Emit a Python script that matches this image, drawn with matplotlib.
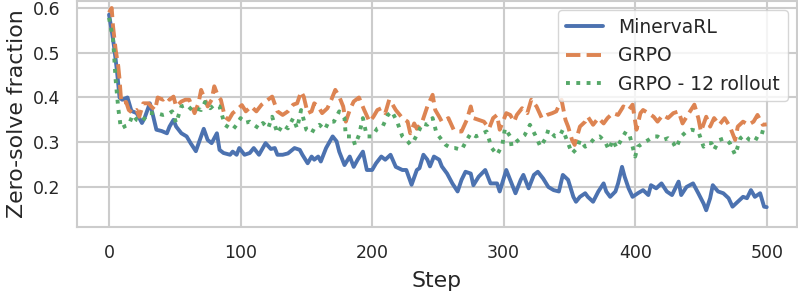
import matplotlib
matplotlib.use("Agg")
import matplotlib.pyplot as plt
import seaborn as sns

# values (step, zero-solve fraction)
minerva_step = [0, 2, 4, 6, 7, 8, 10, 14, 17, 21, 25, 27, 31, 33, 36, 40, 44, 46, 49, 51,
                55, 59, 62, 66, 69, 72, 75, 78, 82, 84, 87, 92, 94, 97, 99, 103, 107, 110, 114, 119,
                123, 126, 128, 132, 136, 141, 145, 147, 151, 154, 156, 159, 161, 165, 170, 173, 175, 179, 183, 186,
                189, 193, 196, 200, 203, 207, 210, 214, 218, 223, 226, 230, 234, 236, 239, 242, 244, 247, 251, 253,
                257, 261, 265, 268, 271, 275, 277, 281, 286, 290, 295, 297, 302, 306, 309, 313, 315, 319, 323, 326,
                330, 334, 338, 342, 345, 349, 353, 355, 358, 362, 364, 368, 372, 376, 378, 381, 385, 387, 390, 392,
                395, 398, 402, 406, 410, 412, 416, 420, 424, 428, 433, 435, 439, 444, 448, 452, 454, 457, 459, 463,
                467, 471, 474, 478, 482, 485, 488, 491, 495, 498, 500]
minerva_val = [0.585, 0.55, 0.51, 0.46, 0.43, 0.40, 0.395, 0.40, 0.37, 0.365, 0.343, 0.354, 0.387, 0.365, 0.328, 0.325, 0.32, 0.335, 0.35, 0.335,
               0.32, 0.313, 0.298, 0.28, 0.305, 0.33, 0.305, 0.298, 0.32, 0.283, 0.276, 0.272, 0.279, 0.272, 0.287, 0.272, 0.276, 0.287, 0.272, 0.298,
               0.285, 0.287, 0.272, 0.272, 0.275, 0.287, 0.283, 0.272, 0.253, 0.268, 0.261, 0.268, 0.257, 0.287, 0.313, 0.302, 0.279, 0.249, 0.268, 0.245,
               0.261, 0.279, 0.238, 0.238, 0.253, 0.268, 0.261, 0.272, 0.245, 0.238, 0.238, 0.205, 0.238, 0.242, 0.272, 0.261, 0.246, 0.268, 0.261, 0.246,
               0.23, 0.208, 0.19, 0.216, 0.234, 0.23, 0.204, 0.223, 0.238, 0.208, 0.208, 0.19, 0.238, 0.208, 0.186, 0.216, 0.227, 0.197, 0.227, 0.234,
               0.219, 0.20, 0.193, 0.19, 0.227, 0.216, 0.178, 0.167, 0.178, 0.186, 0.178, 0.167, 0.19, 0.208, 0.19, 0.178, 0.19, 0.208, 0.245, 0.223,
               0.197, 0.178, 0.186, 0.193, 0.182, 0.204, 0.197, 0.208, 0.19, 0.182, 0.212, 0.182, 0.20, 0.208, 0.186, 0.163, 0.148, 0.175, 0.204, 0.19,
               0.186, 0.175, 0.156, 0.167, 0.178, 0.175, 0.193, 0.178, 0.186, 0.156, 0.155]

grpo_step = [0, 2, 3, 5, 7, 8, 9, 10, 13, 15, 18, 21, 23, 26, 30, 32, 35, 37, 41, 44,
             46, 49, 51, 55, 58, 61, 65, 68, 70, 73, 75, 78, 80, 83, 85, 88, 91, 94, 97, 101,
             104, 108, 112, 116, 119, 124, 128, 132, 136, 140, 143, 146, 148, 151, 154, 156, 159, 162, 166, 169,
             172, 175, 178, 180, 183, 186, 190, 194, 198, 201, 204, 207, 210, 213, 215, 218, 223, 227, 229, 232,
             234, 238, 242, 246, 248, 251, 253, 256, 258, 262, 266, 268, 272, 275, 277, 281, 285, 289, 292, 295,
             297, 300, 302, 305, 308, 310, 314, 318, 321, 325, 329, 333, 337, 340, 344, 347, 349, 352, 354, 358,
             362, 364, 368, 372, 376, 379, 383, 387, 391, 395, 398, 401, 404, 406, 410, 414, 417, 421, 425, 429,
             433, 436, 440, 445, 448, 450, 454, 457, 460, 464, 468, 472, 476, 478, 482, 486, 490, 493, 497, 500]
grpo_val = [0.59, 0.60, 0.56, 0.507, 0.47, 0.44, 0.40, 0.387, 0.39, 0.372, 0.365, 0.372, 0.357, 0.387, 0.387, 0.38, 0.372, 0.40, 0.395, 0.402,
            0.395, 0.402, 0.38, 0.391, 0.395, 0.395, 0.365, 0.387, 0.417, 0.395, 0.38, 0.395, 0.425, 0.402, 0.395, 0.357, 0.35, 0.365, 0.372, 0.383,
            0.369, 0.38, 0.369, 0.384, 0.391, 0.402, 0.369, 0.361, 0.369, 0.384, 0.387, 0.413, 0.402, 0.365, 0.369, 0.387, 0.38, 0.365, 0.376, 0.395,
            0.417, 0.402, 0.38, 0.346, 0.372, 0.391, 0.40, 0.372, 0.346, 0.357, 0.372, 0.376, 0.365, 0.395, 0.387, 0.372, 0.354, 0.346, 0.32, 0.342,
            0.33, 0.345, 0.38, 0.406, 0.372, 0.357, 0.346, 0.35, 0.354, 0.328, 0.324, 0.324, 0.35, 0.38, 0.354, 0.35, 0.346, 0.331, 0.354, 0.361,
            0.328, 0.35, 0.365, 0.361, 0.346, 0.361, 0.376, 0.365, 0.395, 0.38, 0.354, 0.361, 0.365, 0.369, 0.395, 0.35, 0.335, 0.305, 0.294, 0.335,
            0.346, 0.357, 0.339, 0.354, 0.342, 0.354, 0.365, 0.361, 0.38, 0.372, 0.384, 0.328, 0.365, 0.372, 0.365, 0.357, 0.346, 0.361, 0.354, 0.365,
            0.369, 0.342, 0.361, 0.384, 0.354, 0.324, 0.357, 0.335, 0.354, 0.339, 0.354, 0.335, 0.305, 0.335, 0.346, 0.339, 0.346, 0.361, 0.339, 0.34]

grpo12_step = [0, 1, 3, 4, 5, 7, 8, 9, 13, 15, 18, 21, 25, 30, 36, 41, 46, 48, 51, 55,
               59, 63, 66, 70, 73, 77, 80, 84, 88, 92, 94, 97, 100, 103, 107, 110, 114, 117, 121, 124,
               128, 132, 136, 140, 143, 146, 150, 154, 156, 160, 164, 167, 171, 175, 179, 180, 185, 187, 190, 193,
               196, 200, 204, 208, 212, 215, 219, 223, 227, 229, 232, 236, 238, 242, 246, 249, 252, 256, 260, 263,
               268, 272, 275, 279, 284, 287, 291, 295, 299, 301, 305, 306, 310, 313, 316, 320, 324, 328, 332, 334,
               339, 343, 345, 349, 352, 356, 358, 362, 366, 369, 373, 377, 380, 383, 386, 390, 393, 396, 400, 402,
               406, 410, 414, 417, 421, 425, 429, 431, 435, 439, 443, 448, 452, 455, 458, 460, 464, 468, 472, 476,
               480, 483, 487, 491, 495, 500]
grpo12_val = [0.578, 0.56, 0.533, 0.488, 0.44, 0.376, 0.354, 0.331, 0.337, 0.339, 0.361, 0.35, 0.346, 0.365, 0.365, 0.361, 0.365, 0.369, 0.343, 0.38,
              0.384, 0.372, 0.376, 0.372, 0.39, 0.376, 0.384, 0.38, 0.339, 0.331, 0.328, 0.339, 0.354, 0.343, 0.346, 0.339, 0.331, 0.343, 0.331, 0.357,
              0.32, 0.339, 0.331, 0.354, 0.331, 0.372, 0.328, 0.32, 0.331, 0.339, 0.328, 0.346, 0.346, 0.369, 0.354, 0.313, 0.313, 0.294, 0.316, 0.354,
              0.313, 0.313, 0.331, 0.335, 0.361, 0.369, 0.346, 0.313, 0.302, 0.295, 0.305, 0.328, 0.342, 0.339, 0.354, 0.32, 0.309, 0.294, 0.287, 0.287,
              0.283, 0.305, 0.32, 0.313, 0.32, 0.324, 0.287, 0.272, 0.294, 0.331, 0.313, 0.291, 0.302, 0.309, 0.316, 0.339, 0.316, 0.29, 0.309, 0.328,
              0.313, 0.316, 0.328, 0.298, 0.275, 0.287, 0.305, 0.29, 0.298, 0.309, 0.313, 0.302, 0.283, 0.305, 0.287, 0.309, 0.324, 0.313, 0.268, 0.29,
              0.298, 0.305, 0.313, 0.313, 0.305, 0.309, 0.298, 0.287, 0.313, 0.324, 0.328, 0.324, 0.29, 0.298, 0.298, 0.283, 0.305, 0.309, 0.298, 0.272,
              0.309, 0.316, 0.305, 0.302, 0.324, 0.32]

sns.set_theme(style="whitegrid")
plt.rcParams['font.family'] = ['DejaVu Sans']
plt.rcParams['grid.linewidth'] = 1.5
plt.rcParams['axes.linewidth'] = 1.5
pal = sns.color_palette("deep")

fig = plt.figure(figsize=(7.98, 2.94), dpi=100)
ax = fig.add_axes([0.0961, 0.2279, 0.9026, 0.7687])

ax.plot(minerva_step, minerva_val, color=pal[0], linewidth=2.8, label='MinervaRL')
ax.plot(grpo_step, grpo_val, color=pal[1], linewidth=2.8, linestyle='--', label='GRPO')
ax.plot(grpo12_step, grpo12_val, color=pal[2], linewidth=2.8, linestyle=':', label='GRPO - 12 rollout')

ax.set_xlim(-24.6, 523)
ax.set_ylim(0.1106, 0.6156)
ax.set_xticks([0, 100, 200, 300, 400, 500])
ax.set_yticks([0.2, 0.3, 0.4, 0.5, 0.6])
ax.tick_params(labelsize=12.5, pad=6)
ax.set_xlabel('Step', fontsize=15.8, labelpad=7)
ax.set_ylabel('Zero-solve fraction', fontsize=15.8, labelpad=4)
ax.legend(loc='upper right', fontsize=13.5)

fig.savefig('out.png', dpi=100)
